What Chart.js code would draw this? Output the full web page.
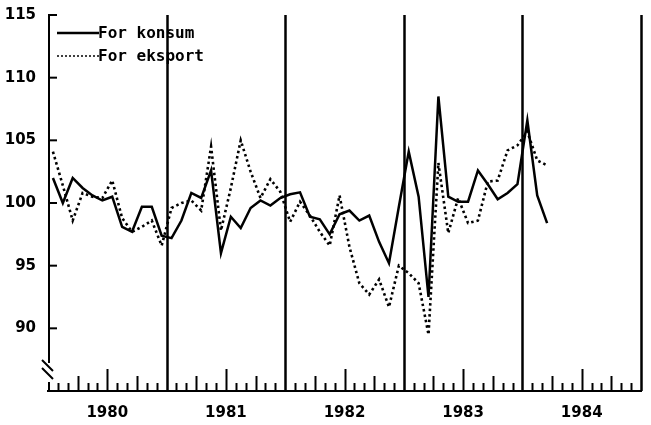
<!DOCTYPE html>
<html>
<head>
<meta charset="utf-8">
<script src="https://cdn.jsdelivr.net/npm/chart.js@4"></script>
<style>
  html, body { margin: 0; padding: 0; background: #fff; }
  #wrap { width: 651px; height: 425px; }
</style>
</head>
<body>
<div id="wrap"><canvas id="chart" width="651" height="425"></canvas></div>
<script>
// monthly index values, Jan 1980 - Mar 1984
const years = ["1980", "1981", "1982", "1983", "1984"];
const yTicks = [90, 95, 100, 105, 110, 115];

const konsum = [
  102.0, 100.0, 102.0, 101.2, 100.6, 100.2, 100.5, 98.1, 97.7, 99.7, 99.7, 97.4,
  97.2, 98.6, 100.8, 100.4, 102.6, 96.0, 98.9, 98.0, 99.6, 100.2, 99.8, 100.4,
  100.7, 100.85, 98.9, 98.7, 97.5, 99.1, 99.4, 98.6, 99.0, 96.9, 95.2, 99.7,
  104.1, 100.5, 92.5, 108.5, 100.5, 100.1, 100.1, 102.6, 101.5, 100.3, 100.8, 101.5,
  106.6, 100.6, 98.4
];
const eksport = [
  104.1, 101.4, 98.6, 100.8, 100.5, 100.4, 101.8, 98.8, 97.7, 98.1, 98.6, 96.6,
  99.6, 100.0, 100.2, 99.4, 104.5, 97.8, 101.2, 105.0, 102.5, 100.4, 101.9, 100.9,
  98.5, 100.1, 99.0, 97.7, 96.6, 100.6, 96.5, 93.6, 92.7, 93.9, 91.7, 95.0,
  94.4, 93.6, 89.5, 103.2, 97.6, 100.4, 98.4, 98.6, 101.7, 101.8, 104.2, 104.6,
  105.7, 103.4, 103.0
];

const months = years.length * 12;
const toPoints = (arr) => arr.map((v, i) => ({ x: i + 0.5, y: v }));

// axes, month ticks, year lines, break mark and legend
const frame = {
  id: "frame",
  beforeDatasetsDraw(chart) {
    const { ctx, chartArea, scales } = chart;
    const x = scales.x, y = scales.y;
    const top = y.getPixelForValue(115);
    const bottom = chartArea.bottom;
    const axisX = chartArea.left + 1;
    ctx.save();
    ctx.strokeStyle = "#000";
    ctx.lineWidth = 2;
    ctx.lineCap = "butt";

    // y axis with a break near the bottom
    ctx.beginPath();
    ctx.moveTo(axisX, top - 1);
    ctx.lineTo(axisX, bottom - 28);
    ctx.moveTo(axisX, bottom - 9);
    ctx.lineTo(axisX, bottom);
    ctx.stroke();
    ctx.beginPath();
    ctx.moveTo(axisX - 7, bottom - 31);
    ctx.lineTo(axisX + 4, bottom - 20);
    ctx.moveTo(axisX - 7, bottom - 23);
    ctx.lineTo(axisX + 4, bottom - 12);
    ctx.stroke();

    // y ticks pointing inward
    yTicks.forEach((v) => {
      const py = y.getPixelForValue(v);
      ctx.beginPath();
      ctx.moveTo(axisX - 1, py);
      ctx.lineTo(axisX + 8, py);
      ctx.stroke();
    });

    // x axis
    ctx.beginPath();
    ctx.moveTo(chartArea.left - 1, bottom);
    ctx.lineTo(x.getPixelForValue(months) + 1, bottom);
    ctx.stroke();

    // month ticks and year lines
    for (let m = 1; m <= months; m++) {
      const px = Math.round(x.getPixelForValue(m)) + 0.5;
      let len = 8;
      if (m % 12 === 0) len = bottom - top;
      else if (m % 12 === 6) len = 22;
      else if (m % 3 === 0) len = 15;
      ctx.lineWidth = m % 12 === 0 ? 2.5 : 2;
      ctx.beginPath();
      ctx.moveTo(px, bottom);
      ctx.lineTo(px, bottom - len);
      ctx.stroke();
    }
    ctx.restore();
  },
  afterDraw(chart) {
    const { ctx } = chart;
    const items = chart.data.datasets;
    const rows = [33, 56];
    ctx.save();
    ctx.font = "bold 16px 'DejaVu Sans Mono'";
    ctx.textBaseline = "middle";
    ctx.fillStyle = "#000";
    items.forEach((ds, i) => {
      ctx.strokeStyle = ds.borderColor;
      ctx.lineWidth = i === 0 ? 2.5 : 1.5;
      ctx.setLineDash(i === 0 ? [] : [2, 2]);
      ctx.beginPath();
      ctx.moveTo(57, rows[i]);
      ctx.lineTo(99, rows[i]);
      ctx.stroke();
      ctx.setLineDash([]);
      ctx.fillText(ds.label, 98, rows[i] + 1);
    });
    ctx.restore();
  }
};

new Chart(document.getElementById("chart"), {
  type: "line",
  data: {
    datasets: [
      {
        label: "For konsum",
        data: toPoints(konsum),
        borderColor: "#000",
        borderWidth: 2.5,
        pointRadius: 0,
        tension: 0,
      },
      {
        label: "For eksport",
        data: toPoints(eksport),
        borderColor: "#000",
        borderWidth: 2.6,
        borderDash: [2.5, 3],
        pointRadius: 0,
        tension: 0,
      },
    ],
  },
  options: {
    responsive: false,
    animation: false,
    events: [],
    layout: { padding: { top: 15, right: 10, left: 0, bottom: 0 } },
    plugins: {
      legend: { display: false },
      tooltip: { enabled: false },
    },
    scales: {
      x: {
        type: "linear",
        min: 0,
        max: months,
        grid: { display: false },
        border: { display: false },
        afterFit: (s) => { s.height = 34; },
        afterBuildTicks: (s) => {
          s.ticks = years.map((yr, i) => ({ value: i * 12 + 6 }));
        },
        ticks: {
          autoSkip: false,
          maxRotation: 0,
          padding: 5,
          color: "#000",
          font: { family: "'DejaVu Sans'", size: 15, weight: "bold" },
          callback: (v) => years[(v - 6) / 12],
        },
      },
      y: {
        min: 85,
        max: 115,
        grid: { display: false },
        border: { display: false },
        afterFit: (s) => { s.width = 48; },
        afterBuildTicks: (s) => {
          s.ticks = yTicks.map((v) => ({ value: v }));
        },
        ticks: {
          padding: 4,
          color: "#000",
          font: { family: "'DejaVu Sans'", size: 15, weight: "bold" },
        },
      },
    },
  },
  plugins: [frame],
});
</script>
</body>
</html>
